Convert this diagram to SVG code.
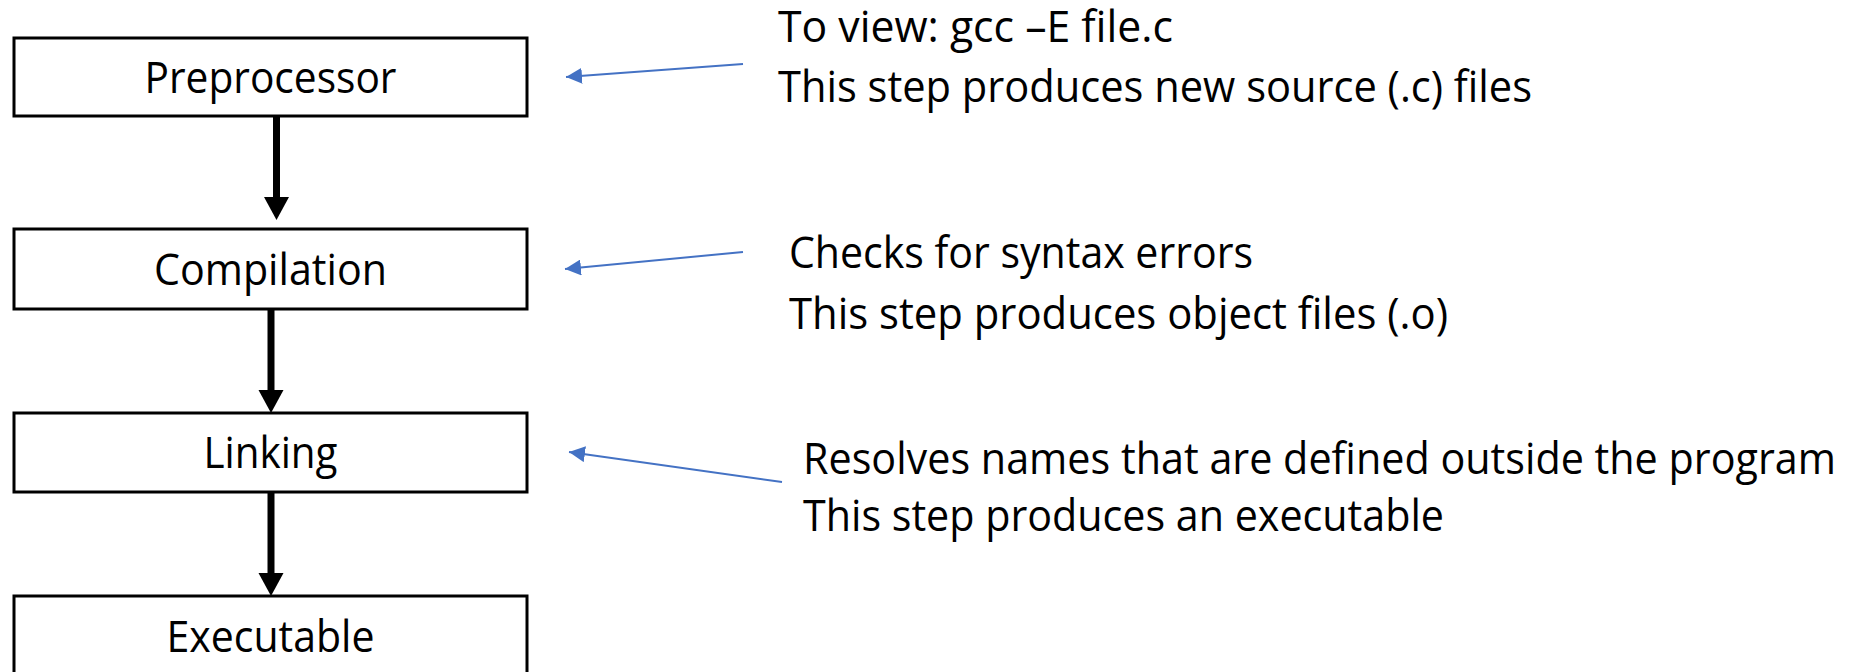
<svg xmlns="http://www.w3.org/2000/svg" width="1852" height="672" viewBox="0 0 1852 672">
<style>
.box{fill:#fff;stroke:#000;stroke-width:3}
.t{font-family:"Open Sans","Liberation Sans",sans-serif;font-size:43px;fill:#000}
.blk{stroke:#000;stroke-width:7;fill:none}
.blue{stroke:#4472C4;stroke-width:2;fill:none;marker-end:url(#bh)}
</style>
<defs>
<marker id="bh" markerUnits="userSpaceOnUse" markerWidth="16" markerHeight="16" refX="15" refY="7.5" orient="auto" viewBox="0 0 15 15">
<path d="M0,0 L15,7.5 L0,15 Z" fill="#4472C4"/>
</marker>
</defs>
<rect width="1852" height="672" fill="#fff"/>
<g id="preprocessor">
<rect class="box" x="14" y="38" width="513" height="78"/>
<text class="t" x="270.5" y="93" text-anchor="middle" textLength="252" lengthAdjust="spacingAndGlyphs">Preprocessor</text>
</g>
<g id="compilation">
<rect class="box" x="14" y="229" width="513" height="80"/>
<text class="t" x="270.5" y="285" text-anchor="middle" textLength="233" lengthAdjust="spacingAndGlyphs">Compilation</text>
</g>
<g id="linking">
<rect class="box" x="14" y="413" width="513" height="79"/>
<text class="t" x="270.5" y="468" text-anchor="middle" textLength="134" lengthAdjust="spacingAndGlyphs">Linking</text>
</g>
<g id="executable">
<rect class="box" x="14" y="596" width="513" height="90"/>
<text class="t" x="270.5" y="652" text-anchor="middle" textLength="208" lengthAdjust="spacingAndGlyphs">Executable</text>
</g>
<g id="note-preprocessor">
<text class="t" x="778" y="42" textLength="395" lengthAdjust="spacingAndGlyphs">To view: gcc –E file.c</text>
<text class="t" x="778" y="102" textLength="754" lengthAdjust="spacingAndGlyphs">This step produces new source (.c) files</text>
</g>
<g id="note-compilation">
<text class="t" x="789" y="268" textLength="464" lengthAdjust="spacingAndGlyphs">Checks for syntax errors</text>
<text class="t" x="789" y="329" textLength="659" lengthAdjust="spacingAndGlyphs">This step produces object files (.o)</text>
</g>
<g id="note-linking">
<text class="t" x="803" y="474" textLength="1033" lengthAdjust="spacingAndGlyphs">Resolves names that are defined outside the program</text>
<text class="t" x="803" y="531" textLength="641" lengthAdjust="spacingAndGlyphs">This step produces an executable</text>
</g>
<g id="connectors">
<line class="blk" x1="276.5" y1="116" x2="276.5" y2="198"/>
<path d="M264,197 L289,197 L276.5,220 Z" fill="#000"/>
<line class="blk" x1="271" y1="309" x2="271" y2="391"/>
<path d="M258.5,390 L283.5,390 L271,413 Z" fill="#000"/>
<line class="blk" x1="271" y1="492" x2="271" y2="574"/>
<path d="M258.5,573 L283.5,573 L271,596 Z" fill="#000"/>
<line class="blue" x1="743" y1="64" x2="566" y2="77"/>
<line class="blue" x1="743" y1="252" x2="565" y2="269"/>
<line class="blue" x1="782" y1="482" x2="569" y2="452"/>
</g>
</svg>
